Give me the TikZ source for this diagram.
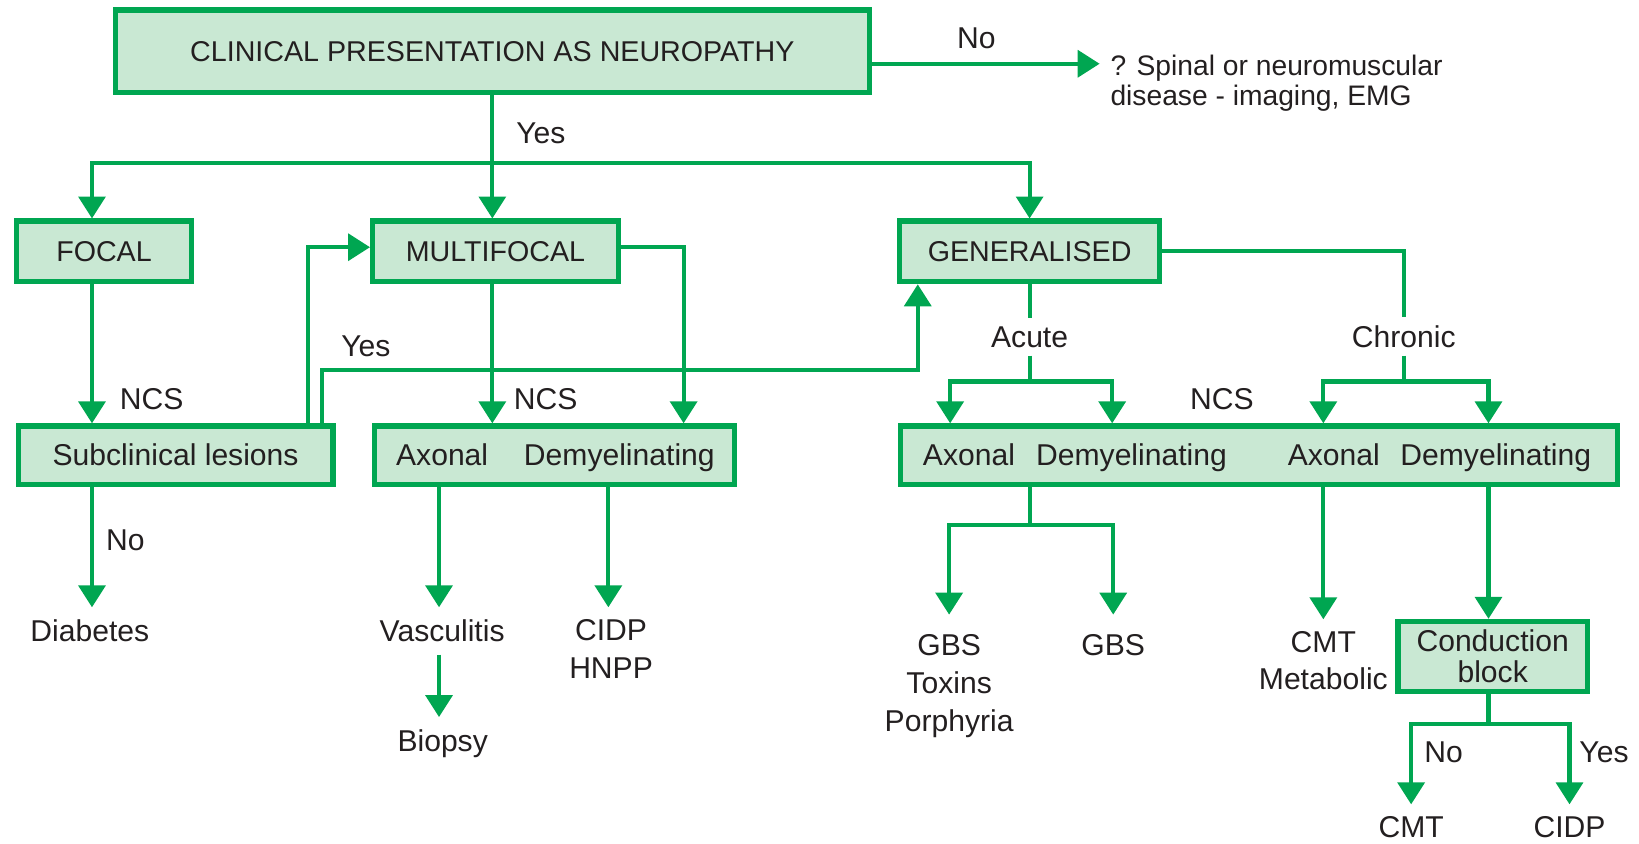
\documentclass[tikz,border=0pt]{standalone}
\usepackage{fontspec}
\setmainfont{Liberation Sans}
\usetikzlibrary{arrows.meta}
\definecolor{G}{RGB}{0,166,81}
\definecolor{F}{RGB}{201,232,211}
\definecolor{T}{RGB}{35,31,32}
\newcommand\bodyfs{\fontsize{14.4pt}{17.5pt}\selectfont}
\newcommand\capfs{\fontsize{13.7pt}{16pt}\selectfont}
\begin{document}
\begin{tikzpicture}[x=0.5pt,y=-0.5pt,
  box/.style={draw=G, fill=F, line width=2.5pt, inner sep=0pt, text=T},
  capbox/.style={box, font=\capfs, text height=9.8pt, text depth=0pt, minimum height=29pt},
  txtbox/.style={box, font=\bodyfs, text height=10.3pt, text depth=0pt, minimum height=28pt},
  line/.style={draw=G, line width=2pt},
  arr/.style={line, -{Triangle[width=12.8pt,length=10.5pt]}},
  lab/.style={text=T, inner sep=0pt, font=\bodyfs, anchor=base},
  gaplab/.style={lab, outer sep=4pt},
  leaf/.style={text=T, inner sep=0pt, font=\bodyfs, anchor=north, align=center, outer sep=6pt},
]
\useasboundingbox (0,0) rectangle (1568,806.5);

% boxes
\node[capbox, minimum width=360.5pt, minimum height=39.5pt] (top) at (471,49) {CLINICAL PRESENTATION AS NEUROPATHY};
\node[capbox, minimum width=84pt] (focal) at (99.5,240.5) {FOCAL};
\node[capbox, minimum width=117.5pt] (multi) at (474,240.5) {MULTIFOCAL};
\node[capbox, minimum width=124.5pt] (gen) at (985,240.5) {GENERALISED};
\node[txtbox, minimum width=150.5pt] (sub) at (168,435.5) {Subclinical lesions};
\node[box, minimum width=172pt, minimum height=28pt] (mncs) at (530.5,435.5) {};
\node[box, minimum width=343pt, minimum height=28pt] (gncs) at (1204.5,435.5) {};
\node[box, align=center, font={\fontsize{14.4pt}{15pt}\selectfont}, minimum width=90.5pt, minimum height=33.5pt] (cb) at (1428,628) {Conduction\\block};

% texts inside the NCS boxes
\node[lab] (ma) at (423,445) {Axonal};
\node[lab] (md) at (592.5,445) {Demyelinating};
\node[lab] (ga1) at (927,445) {Axonal};
\node[lab] (gd1) at (1082.5,445) {Demyelinating};
\node[lab] (ga2) at (1276,445) {Axonal};
\node[lab] (gd2) at (1431,445) {Demyelinating};

% labels
\node[lab] (no1) at (934,46) {No};
\node[lab] (yes1) at (517.5,137) {Yes};
\node[lab] (ncs1) at (145,392) {NCS};
\node[lab] (ncs2) at (522,392) {NCS};
\node[lab] (ncs3) at (1169,392) {NCS};
\node[lab] (yes2) at (350,340.6) {Yes};
\node[gaplab] (acute) at (985,332) {Acute};
\node[gaplab] (chronic) at (1343,332) {Chronic};
\node[lab] (no2) at (120,527) {No};
\node[lab] (no3) at (1381,729) {No};
\node[lab] (yes3) at (1534.5,729) {Yes};
\node[text=T, inner sep=0pt, anchor=north west, align=left, font={\fontsize{13.5pt}{14pt}\selectfont}] (spinal) at (1062,52.7) {? Spinal or neuromuscular\\disease - imaging, EMG};

% leaves
\node[leaf] (diab) at (86,581) {Diabetes};
\node[leaf] (vasc) at (423,581) {Vasculitis};
\node[leaf] (biopsy) at (423.5,686) {Biopsy};
\node[leaf, font={\fontsize{14.4pt}{17.8pt}\selectfont}] (cidp1) at (584.6,581) {CIDP\\HNPP};
\node[leaf, outer sep=9.5pt, font={\fontsize{14.4pt}{18.2pt}\selectfont}] (gbs1) at (908,588) {GBS\\Toxins\\Porphyria};
\node[leaf, outer sep=9.5pt] (gbs2) at (1065,588) {GBS};
\node[leaf, font={\fontsize{14.4pt}{17.5pt}\selectfont}] (cmt1) at (1266,592.5) {CMT\\Metabolic};
\node[leaf] (cmt2) at (1350,769.5) {CMT};
\node[leaf] (cidp2) at (1501.5,769.5) {CIDP};

% connector points
\coordinate (J0) at (471,156);
\coordinate (Jf) at (88,156);
\coordinate (noTip) at (1052,61);
\coordinate (s1) at (295,300);
\coordinate (yesL) at (308,354);
\coordinate (yesR) at (878,354);
\coordinate (dArr) at (654,300);
\coordinate (vcol) at (420,500);
\coordinate (dcol) at (582,500);
\coordinate (aJ) at (985,365);
\coordinate (a1) at (909,365);
\coordinate (a2) at (1064,365);
\coordinate (cJ) at (1343,365);
\coordinate (c1) at (1266,365);
\coordinate (c2) at (1424,365);
\coordinate (bJ) at (985,502);
\coordinate (dJ) at (1424,693);

% connectors
\draw[arr] ([yshift=-6pt]top.east) -- (noTip);
\draw[line] (top.south) -- (J0);
\draw[arr] (J0) -- (multi.north -| J0);
\draw[arr] (J0) -| (focal.north -| Jf);
\draw[arr] (J0) -| (gen.north);

\draw[arr] (focal.south -| Jf) -- (sub.north -| Jf);
\draw[arr] (sub.south -| Jf) -- (diab.north -| Jf);
\draw[arr] (sub.north -| s1) |- ([yshift=2pt]multi.west);
\draw[arr] (sub.north -| yesL) -- (yesL) -- (yesR) -- (gen.south -| yesR);
\draw[arr] (multi.south -| J0) -- (mncs.north -| J0);
\draw[arr] ([yshift=2pt]multi.east) -| (mncs.north -| dArr);
\draw[arr] (mncs.south -| vcol) -- (vasc.north -| vcol);
\draw[arr] (vasc.south -| vcol) -- (biopsy.north -| vcol);
\draw[arr] (mncs.south -| dcol) -- (cidp1.north -| dcol);

\draw[line] (gen.south) -- (acute.north);
\draw[line] (acute.south) -- (aJ);
\draw[arr] (aJ) -| (gncs.north -| a1);
\draw[arr] (aJ) -| (gncs.north -| a2);
\draw[line] (gen.east) -| (chronic.north);
\draw[line] (chronic.south) -- (cJ);
\draw[arr] (cJ) -| (gncs.north -| c1);
\draw[arr] (cJ) -| (gncs.north -| c2);

\draw[line] (gncs.south -| bJ) -- (bJ);
\draw[arr] (bJ) -| (gbs1.north);
\draw[arr] (bJ) -| (gbs2.north);
\draw[arr] (gncs.south -| c1) -- (cmt1.north -| c1);
\draw[arr] (gncs.south -| c2) -- (cb.north -| c2);
\draw[line] (cb.south -| dJ) -- (dJ);
\draw[arr] (dJ) -| (cmt2.north);
\draw[arr] (dJ) -| (cidp2.north);
\end{tikzpicture}
\end{document}
